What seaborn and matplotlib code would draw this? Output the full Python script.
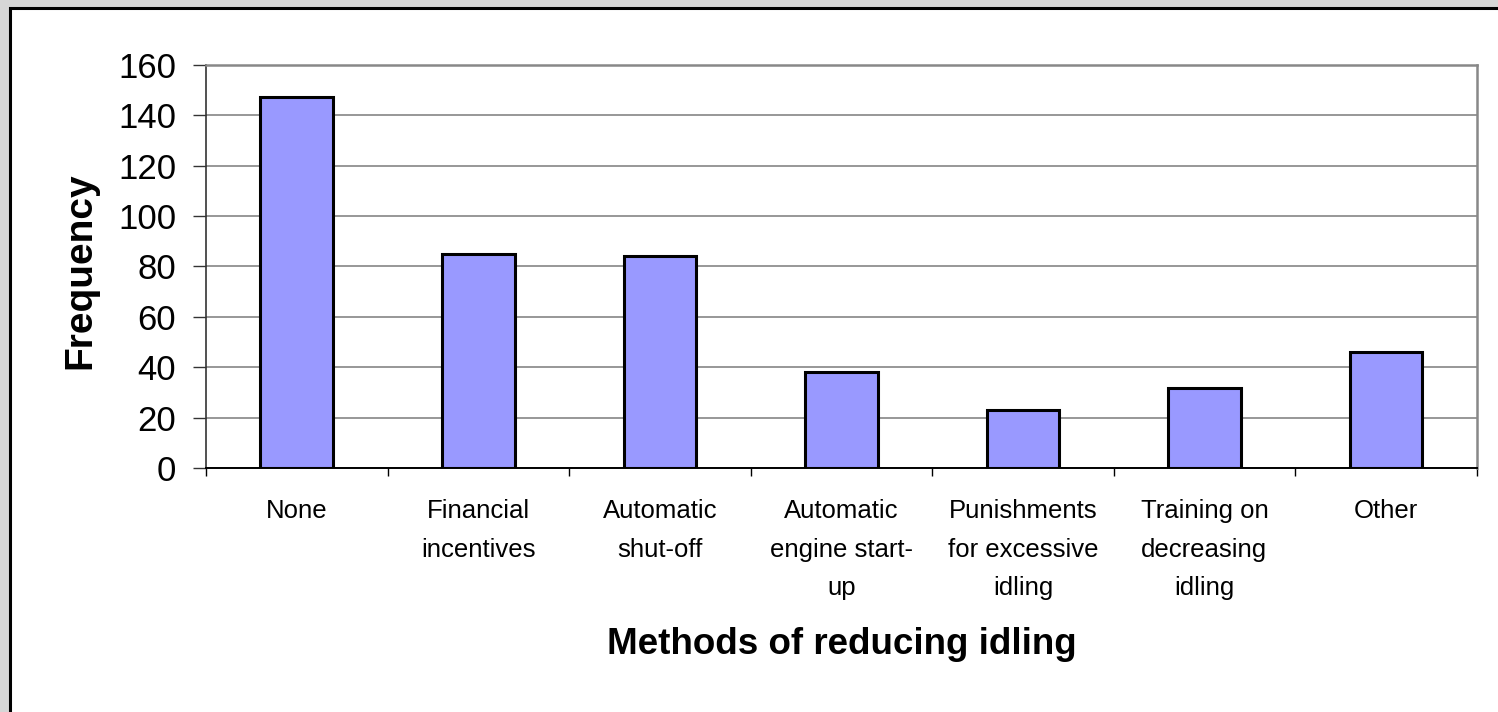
import matplotlib
matplotlib.use("Agg")
import matplotlib.pyplot as plt
from matplotlib.patches import Rectangle
import seaborn as sns
import pandas as pd

# Survey data: methods used to reduce vehicle idling
methods = [
    "None",
    "Financial\nincentives",
    "Automatic\nshut-off",
    "Automatic\nengine start-\nup",
    "Punishments\nfor excessive\nidling",
    "Training on\ndecreasing\nidling",
    "Other",
]
frequency = [147, 85, 84, 38, 23, 32, 46]
y_ticks = [0, 20, 40, 60, 80, 100, 120, 140, 160]

df = pd.DataFrame({"method": methods, "frequency": frequency})

sns.set_theme(style="white")
plt.rcParams["font.family"] = ["Liberation Sans", "DejaVu Sans"]
plt.rcParams["text.color"] = "black"
plt.rcParams["axes.labelcolor"] = "black"
plt.rcParams["xtick.color"] = "black"
plt.rcParams["ytick.color"] = "black"

W, H = 1498, 712
fig = plt.figure(figsize=(W / 100, H / 100), dpi=100)
fig.patch.set_facecolor("#d6d6d6")

# white chart panel with a dark frame on its left and top edges
panel = Rectangle((10 / W, -0.2), 1.3, 1.2 - 8 / H, transform=fig.transFigure,
                  facecolor="white", edgecolor="black", linewidth=2.2, zorder=-10)
fig.patches.append(panel)

ax = fig.add_axes([206 / W, 1 - 468.3 / H, (1476.7 - 206) / W, (468.3 - 64.7) / H])
ax.set_facecolor("white")

sns.barplot(data=df, x="method", y="frequency", ax=ax, color="#9999ff",
            saturation=1, width=0.4, edgecolor="black", linewidth=2.2, zorder=3)

ax.set_ylim(0, 160)
ax.set_xlim(-0.5, len(methods) - 0.5)
ax.set_yticks(y_ticks)
ax.set_yticklabels([str(t) for t in y_ticks], fontsize=25, color="black")
ax.yaxis.grid(True, color="#7a7a7a", linewidth=1.1, zorder=0)
ax.xaxis.grid(False)
ax.set_axisbelow(True)

# category labels centred under the bars, tick marks on the category boundaries
ax.set_xticks(range(len(methods)))
ax.set_xticklabels(methods, fontsize=18.5, linespacing=1.78, color="black",
                   ha="center", va="top", multialignment="center")
ax.tick_params(axis="x", which="major", length=0, pad=22)
ax.set_xticks([i + 0.5 for i in range(-1, len(methods))], minor=True)
ax.tick_params(axis="x", which="minor", bottom=True, length=6, width=1.0,
               color="black", direction="out")
ax.tick_params(axis="y", left=True, length=9.5, width=1.0, color="#333333",
               direction="out", pad=12)

for side in ("top", "right"):
    ax.spines[side].set_color("#888888")
    ax.spines[side].set_linewidth(1.8)
ax.spines["left"].set_color("#333333")
ax.spines["left"].set_linewidth(1.2)
ax.spines["bottom"].set_color("black")
ax.spines["bottom"].set_linewidth(1.4)

ax.set_xlabel("Methods of reducing idling", fontsize=26.5, fontweight="bold",
              color="black")
ax.set_ylabel("Frequency", fontsize=28, fontweight="bold", color="black")
ax.xaxis.set_label_coords(0.5, -0.392)
ax.yaxis.set_label_coords(-0.085, 0.49)

fig.savefig("out.png", dpi=100, facecolor=fig.get_facecolor())
